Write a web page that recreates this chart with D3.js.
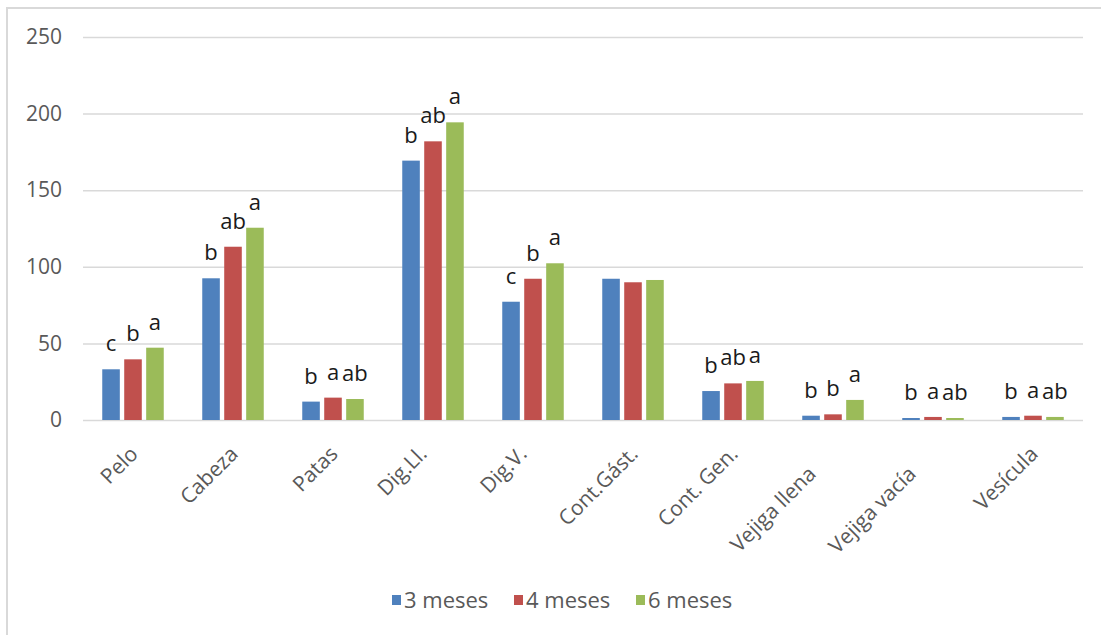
<!DOCTYPE html>
<html>
<head>
<meta charset="utf-8">
<script src="https://cdn.jsdelivr.net/npm/d3@7"></script>
<style>
  html, body { margin: 0; padding: 0; background: #fff; }
  svg { display: block; }
</style>
</head>
<body>
<svg id="chart" width="1101" height="635"></svg>
<script>
// Categories (body parts) and the three age groups
const categories = ["Pelo", "Cabeza", "Patas", "Dig.Ll.", "Dig.V.", "Cont.Gást.", "Cont. Gen.", "Vejiga llena", "Vejiga vacía", "Vesícula"];
const seriesNames = ["3 meses", "4 meses", "6 meses"];
const seriesColors = ["#4f81bd", "#c0504d", "#9bbb59"];

// Values per series, in category order
const meses3 = [33.1, 92.5, 12.0, 169.3, 77.2, 92.2, 18.9, 2.8, 1.3, 2.0];
const meses4 = [39.6, 113.1, 14.6, 181.9, 92.2, 89.9, 23.9, 3.7, 2.0, 2.8];
const meses6 = [47.2, 125.5, 13.7, 194.3, 102.3, 91.4, 25.5, 13.1, 1.3, 2.0];

// Significance letters above each bar ("" = none)
const letras3 = ["c", "b", "b", "b", "c", "", "b", "b", "b", "b"];
const letras4 = ["b", "ab", "a", "ab", "b", "", "ab", "b", "a", "a"];
const letras6 = ["a", "a", "ab", "a", "a", "", "a", "a", "ab", "ab"];

const yTicks = [0, 50, 100, 150, 200, 250];

const values = [meses3, meses4, meses6];
const letters = [letras3, letras4, letras6];

const FONT = "'Open Sans', sans-serif";
const svg = d3.select("#chart");

// Outer frame: light gray left and top edges
svg.append("line").attr("x1", 7).attr("x2", 7).attr("y1", 7).attr("y2", 635)
  .attr("stroke", "#d9d9d9").attr("stroke-width", 2);
svg.append("line").attr("x1", 6).attr("x2", 1101).attr("y1", 8).attr("y2", 8)
  .attr("stroke", "#d9d9d9").attr("stroke-width", 2);

const plot = { left: 83, right: 1083, top: 37, bottom: 420 };

const x0 = d3.scaleBand()
  .domain(categories)
  .range([plot.left, plot.right])
  .paddingInner(0.385)
  .paddingOuter(0.1925);

const x1 = d3.scaleBand()
  .domain(d3.range(seriesNames.length))
  .range([0, x0.bandwidth()])
  .paddingInner(0.2);

const y = d3.scaleLinear().domain([0, 250]).range([plot.bottom, plot.top]);

// Horizontal gridlines + tick labels
const yAxis = d3.axisLeft(y).tickValues(yTicks).tickSize(-(plot.right - plot.left)).tickPadding(21);
const gy = svg.append("g").attr("transform", `translate(${plot.left},0)`).call(yAxis);
gy.select(".domain").remove();
gy.selectAll(".tick line").attr("stroke", "#d9d9d9").attr("stroke-width", 1.5);
gy.selectAll(".tick text")
  .attr("fill", "#595959")
  .style("font-family", FONT)
  .style("font-size", "21px");

// Bars
const groups = svg.append("g").selectAll("g")
  .data(categories)
  .join("g")
  .attr("transform", d => `translate(${x0(d)},0)`);

groups.selectAll("rect")
  .data((d, i) => values.map((s, k) => ({ k, v: s[i] })))
  .join("rect")
  .attr("x", d => x1(d.k))
  .attr("width", x1.bandwidth())
  .attr("y", d => y(d.v))
  .attr("height", d => y(0) - y(d.v))
  .attr("fill", d => seriesColors[d.k]);

// Letters above bars
groups.selectAll("text.lbl")
  .data((d, i) => values.map((s, k) => ({ k, v: s[i], t: letters[k][i] })).filter(d => d.t))
  .join("text")
  .attr("class", "lbl")
  .attr("x", d => x1(d.k) + x1.bandwidth() / 2)
  .attr("y", d => y(d.v) - 18)
  .attr("text-anchor", "middle")
  .attr("fill", "#1a1a1a")
  .style("font-family", FONT)
  .style("font-size", "22px")
  .text(d => d.t);

// Category axis labels, rotated 45°; a few labels sit a little further out
const labelNudge = {
  "Dig.Ll.": [-11, 0],
  "Dig.V.": [-11, 0],
  "Vejiga llena": [-22, 20],
  "Vejiga vacía": [-22, 20]
};
const xAxis = d3.axisBottom(x0).tickSize(0).tickPadding(0);
const gx = svg.append("g").attr("transform", `translate(0,${plot.bottom})`).call(xAxis);
gx.select(".domain").remove();
gx.selectAll(".tick text")
  .attr("fill", "#595959")
  .style("font-family", FONT)
  .style("font-size", "21px")
  .attr("text-anchor", "end")
  .attr("dy", "0.35em")
  .attr("transform", d => {
    const n = labelNudge[d] || [0, 0];
    return `translate(${1 + n[0]},${30 + n[1]}) rotate(-45)`;
  });

// Legend
const legend = svg.append("g").attr("transform", "translate(392,600)");
const item = legend.selectAll("g").data(seriesNames).join("g")
  .attr("transform", (d, i) => `translate(${i * 122},0)`);
item.append("rect").attr("x", 0).attr("y", -5).attr("width", 9).attr("height", 10)
  .attr("fill", (d, i) => seriesColors[i]);
item.append("text").attr("x", 12).attr("y", 0).attr("dy", "0.35em")
  .attr("fill", "#595959")
  .style("font-family", FONT)
  .style("font-size", "22px")
  .text(d => d);
</script>
</body>
</html>
